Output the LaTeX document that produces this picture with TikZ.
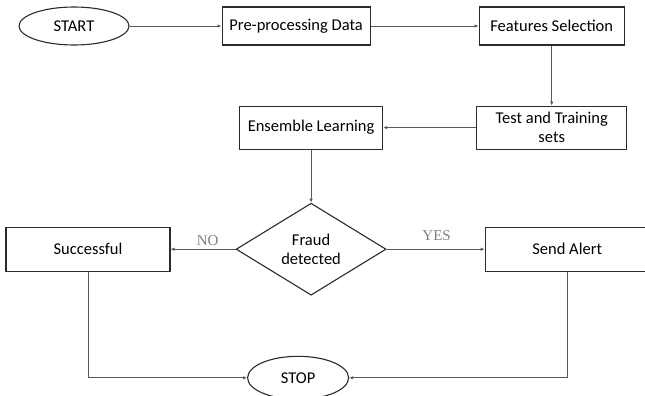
\documentclass[tikz,border=0pt]{standalone}
\usepackage{fontspec}
\setmainfont{Carlito}
\newfontfamily\labelfont{Liberation Serif}
\usetikzlibrary{arrows.meta,positioning,shapes.geometric}
\definecolor{edge}{HTML}{2B2B2B}
\definecolor{wire}{HTML}{5A5A5A}
\definecolor{tag}{HTML}{808080}

\begin{document}
\begin{tikzpicture}[
  font=\fontsize{16.5}{19}\selectfont,
  box/.style={draw=edge, line width=1.1pt, fill=white, minimum width=148pt, minimum height=38pt, inner sep=2pt, align=center},
  term/.style={ellipse, draw=edge, line width=1.1pt, fill=white, inner sep=0pt},
  decision/.style={diamond, draw=edge, line width=1.1pt, fill=white, aspect=1.63, inner sep=0pt, minimum width=150pt, minimum height=92pt, align=center},
  flow/.style={-{Latex[length=4pt,width=3.5pt]}, line width=0.8pt, draw=wire},
  tagtext/.style={font=\labelfont\fontsize{15}{17}\selectfont, text=tag, inner sep=1pt}
]
\useasboundingbox (0,0) rectangle (645pt,-396pt);
\node[term, minimum width=110pt, minimum height=38pt] (start) at (74pt,-26pt) {START};
\node[box, right=92pt of start] (prep) {Pre-processing Data};
\node[box, minimum width=145pt, right=108pt of prep] (feat) {Features Selection};
\node[box, minimum width=150pt, minimum height=43pt, below=60pt of feat] (split) {Test and Training\\sets};
\node[box, minimum width=143pt, minimum height=43pt, left=93pt of split] (ensemble) {Ensemble Learning};
\node[decision, below=53pt of ensemble] (fraud) {Fraud\\detected};
\node[box, minimum width=164pt, minimum height=44pt, left=65pt of fraud] (success) {Successful};
\node[box, minimum width=164pt, minimum height=44pt, right=98pt of fraud] (alert) {Send Alert};
\node[term, minimum width=101pt, minimum height=43pt, below=60pt of fraud, xshift=-13pt] (stop) {STOP};
\draw[flow] (start) -- (prep);
\draw[flow] (prep) -- (feat);
\draw[flow] (feat) -- (split);
\draw[flow] (split) -- (ensemble);
\draw[flow] (ensemble) -- (fraud);
\draw[flow] (fraud) -- node[tagtext, above=2pt, pos=0.43]{NO} (success);
\draw[flow] (fraud) -- node[tagtext, above=7pt, pos=0.51]{YES} (alert);
\draw[flow] (success) |- (stop);
\draw[flow] (alert) |- (stop);
\end{tikzpicture}
\end{document}
